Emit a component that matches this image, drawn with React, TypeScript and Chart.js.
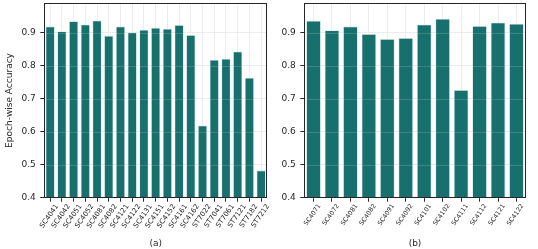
import React, { useEffect, useRef } from "react";
import { Chart, registerables } from "chart.js";

Chart.register(...registerables);

// ---- data ----
const labelsA = [
  "SC4041", "SC4042", "SC4051", "SC4052", "SC4081", "SC4082", "SC4121", "SC4122",
  "SC4131", "SC4151", "SC4152", "SC4161", "SC4162", "ST7022", "ST7041", "ST7061",
  "ST7121", "ST7182", "ST7212",
];
const valuesA = [
  0.920, 0.905, 0.936, 0.926, 0.938, 0.892, 0.920, 0.902,
  0.910, 0.916, 0.913, 0.924, 0.894, 0.619, 0.819, 0.822,
  0.844, 0.764, 0.483,
];
const labelsB = [
  "SC4071", "SC4072", "SC4081", "SC4082", "SC4091", "SC4092",
  "SC4101", "SC4102", "SC4111", "SC4112", "SC4121", "SC4122",
];
const valuesB = [
  0.937, 0.908, 0.920, 0.897, 0.882, 0.885,
  0.926, 0.943, 0.727, 0.921, 0.932, 0.928,
];
const yTicks = [0.4, 0.5, 0.6, 0.7, 0.8, 0.9];
const yMin = 0.4;
const yMax = 0.99;
const yTitle = "Epoch-wise Accuracy";
const titleA = "(a)";
const titleB = "(b)";

const FONT = "'DejaVu Sans', sans-serif";
const TEXT = "#262626";
const BAR = "#17706d";

const framePlugin = {
  id: "frame",
  afterDatasetsDraw(chart: any) {
    const { ctx, chartArea, scales } = chart;
    const y = scales.y;
    ctx.save();
    ctx.strokeStyle = "rgba(255,255,255,0.2)";
    ctx.lineWidth = 0.8;
    for (const t of y.ticks) {
      const yy = Math.round(y.getPixelForValue(t.value)) + 0.5;
      ctx.beginPath();
      ctx.moveTo(chartArea.left, yy);
      ctx.lineTo(chartArea.right, yy);
      ctx.stroke();
    }
    ctx.restore();
  },
  afterDraw(chart: any) {
    const { ctx, chartArea } = chart;
    ctx.save();
    ctx.strokeStyle = TEXT;
    ctx.lineWidth = 1;
    const l = Math.round(chartArea.left) + 0.5;
    const t = Math.round(chartArea.top) + 0.5;
    const r = Math.round(chartArea.right) - 0.5;
    const b = Math.round(chartArea.bottom) - 0.5;
    ctx.strokeRect(l, t, r - l, b - t);
    ctx.restore();
  },
};

type PanelProps = {
  labels: string[];
  values: number[];
  title: string;
  left: number;
  width: number;
  yAxisWidth: number;
  padRight: number;
  xFont: number;
  showYTitle: boolean;
  labelOffset: number;
};

function Panel(p: PanelProps) {
  const ref = useRef<HTMLCanvasElement | null>(null);
  useEffect(() => {
    if (!ref.current) return;
    const chart = new Chart(ref.current, {
      type: "bar",
      data: {
        labels: p.labels,
        datasets: [
          {
            data: p.values,
            backgroundColor: BAR,
            borderColor: "rgba(200,225,222,0.75)",
            borderWidth: 0.8,
            barPercentage: 0.8,
            categoryPercentage: 1.0,
          },
        ],
      },
      options: {
        responsive: false,
        animation: false,
        devicePixelRatio: 1,
        layout: { padding: { top: 3.3, right: p.padRight, bottom: 0, left: 0 } },
        plugins: { legend: { display: false }, tooltip: { enabled: false } },
        scales: {
          x: {
            type: "category",
            offset: true,
            grid: {
              offset: false,
              color: "#e8e8e8",
              lineWidth: 0.8,
              drawTicks: true,
              tickLength: 4,
              tickColor: TEXT,
              tickWidth: 1,
            },
            border: { display: false },
            ticks: {
              autoSkip: false,
              minRotation: 55,
              maxRotation: 55,
              color: TEXT,
              padding: 1,
              labelOffset: p.labelOffset,
              font: { family: FONT, size: p.xFont },
            },
            title: {
              display: true,
              text: p.title,
              color: TEXT,
              padding: { top: 0, bottom: 0 },
              font: { family: FONT, size: 9 },
            },
            afterFit(scale: any) {
              scale.height = 51.3;
              scale.paddingLeft = 0;
              scale.paddingRight = 0;
            },
          },
          y: {
            min: yMin,
            max: yMax,
            grid: {
              color: "#e8e8e8",
              lineWidth: 0.8,
              drawTicks: true,
              tickLength: 4,
              tickColor: TEXT,
              tickWidth: 1,
            },
            border: { display: false },
            ticks: {
              color: TEXT,
              padding: 4.5,
              font: { family: FONT, size: 9 },
              callback: (v: any) => Number(v).toFixed(1),
            },
            afterBuildTicks(scale: any) {
              scale.ticks = yTicks.map((v) => ({ value: v }));
            },
            title: {
              display: p.showYTitle,
              text: yTitle,
              color: TEXT,
              padding: { top: 4, bottom: 0 },
              font: { family: FONT, size: 9 },
            },
            afterFit(scale: any) {
              scale.width = p.yAxisWidth;
              scale.paddingTop = 0;
              scale.paddingBottom = 0;
            },
          },
        },
      },
      plugins: [framePlugin],
    } as any);
    return () => chart.destroy();
  }, []);
  return (
    <canvas
      ref={ref}
      width={p.width}
      height={249}
      style={{ position: "absolute", left: p.left, top: 0, width: p.width, height: 249 }}
    />
  );
}

export default function App() {
  return (
    <div style={{ position: "absolute", left: 0, top: 0, width: 538, height: 249, background: "#fff" }}>
      <Panel
        labels={labelsA}
        values={valuesA}
        title={titleA}
        left={0}
        width={270}
        yAxisWidth={44.3}
        padRight={3}
        xFont={7}
        showYTitle={true}
        labelOffset={7}
      />
      <Panel
        labels={labelsB}
        values={valuesB}
        title={titleB}
        left={270}
        width={268}
        yAxisWidth={34.3}
        padRight={12.3}
        xFont={6.3}
        showYTitle={false}
        labelOffset={6}
      />
    </div>
  );
}
